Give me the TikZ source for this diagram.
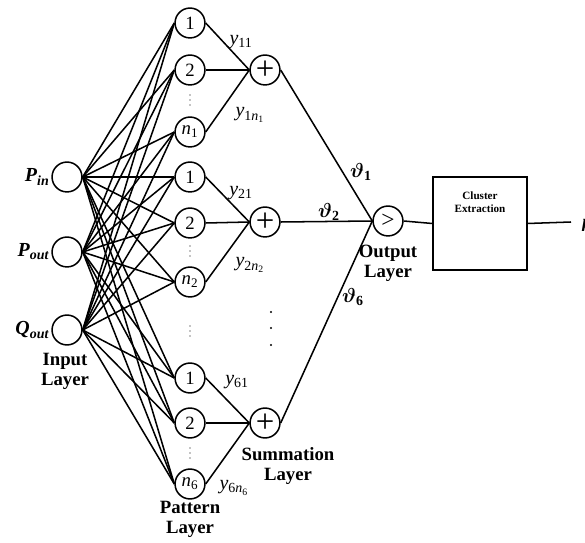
\documentclass[tikz,border=0pt]{standalone}
\usepackage{amsmath}
\usepackage{fontspec}
\setmainfont{Liberation Serif}
\usetikzlibrary{positioning}

\newcommand{\bvar}[2]{\textbf{\textit{#1}}\textsubscript{\textbf{\textit{#2}}}}
\newcommand{\wvar}[1]{\textit{y}\textsubscript{#1}}

\begin{document}
\begin{tikzpicture}[x=0.03cm,y=-0.03cm,line width=1.3pt,
                    main node/.style={circle,draw,minimum size=25.5pt,inner sep=0pt,font=\fontsize{16}{16}\selectfont},
                    sum node/.style={circle,draw,minimum size=25.5pt,inner sep=0pt,font=\fontsize{28}{28}\selectfont},
                    layer label/.style={align=center,font=\bfseries\fontsize{16}{17}\selectfont},
                    weight label/.style={font=\fontsize{17}{17}\selectfont}]
  \useasboundingbox (0,0) rectangle (585,543);
  % input layer
  \node[main node] (Pin)  at (67,177) {};
  \node[main node] (Pout) at (67,252) {};
  \node[main node] (Qout) at (67,330) {};
  \node[weight label,anchor=east,inner sep=1pt] at (Pin.west)  {\bvar{P}{in}};
  \node[weight label,anchor=east,inner sep=1pt] at (Pout.west) {\bvar{P}{out}};
  \node[weight label,anchor=east,inner sep=1pt] at (Qout.west) {\bvar{Q}{out}};
  \node[layer label] (inlabel) at (65,371) {Input\\Layer};

  % pattern layer
  \node[main node] (p11) at (190,23)  {1};
  \node[main node] (p12) at (190,70)  {2};
  \node[main node] (p1n) at (190,132) {\textit{n}\textsubscript{1}};
  \node[main node] (p21) at (190,177) {1};
  \node[main node] (p22) at (190,223) {2};
  \node[main node] (p2n) at (190,282) {\textit{n}\textsubscript{2}};
  \node[main node] (p61) at (190,378) {1};
  \node[main node] (p62) at (190,423) {2};
  \node[main node] (p6n) at (190,484) {\textit{n}\textsubscript{6}};
  \foreach \y in {100,251,331,453}
    \foreach \d in {-5,0,5}
      \fill (190,\y+\d) circle (0.6pt);
  \node[layer label] (patlabel) at (190,519) {Pattern\\Layer};

  % summation layer
  \node[sum node] (s1) at (265,70)  {+};
  \node[sum node] (s2) at (265,222) {+};
  \node[sum node] (s6) at (265,423) {+};
  \foreach \y in {312,328,345}
    \fill (271,\y) circle (0.9pt);
  \node[layer label] (sumlabel) at (288,466) {Summation\\Layer};

  % output layer
  \node[main node,font=\fontsize{20}{20}\selectfont] (out) at (388,221) {>};
  \node[layer label] (outlabel) at (388,263) {Output\\Layer};
  \node[draw,minimum width=80pt,minimum height=79pt] (cluster) at (480,223.5) {};
  \node[align=center,font=\bfseries\fontsize{9.5}{11}\selectfont,below=9pt of cluster.north] (clustertext) {Cluster\\Extraction};
  \coordinate (end) at (571,222);
  \node[anchor=west,font=\bfseries\itshape\fontsize{15}{15}\selectfont] (k) at (577,225) {k};

  % connections input -> pattern
  \foreach \i in {Pin,Pout,Qout}
    \foreach \p in {p11,p12,p1n,p21,p22,p2n,p61,p62,p6n}
      \draw (\i.east) -- (\p.west);

  % connections pattern -> summation
  \foreach \g in {1,2,6}
    \foreach \p in {\g1,\g2,\g n}
      \draw (p\p.east) -- (s\g.west);
  \draw (s1.east) -- (out.west);
  \draw (s2.east) -- (out.west);
  \draw (s6.east) -- (out.west);
  \draw (out.east) -- (cluster.west);
  \draw (cluster.east) -- (end);

  % weights
  \node[weight label] at (241,42)  {\wvar{11}};
  \node[weight label] at (250,115) {\wvar{1\textit{n}\textsubscript{1}}};
  \node[weight label] at (241,193) {\wvar{21}};
  \node[weight label] at (250,265) {\wvar{2\textit{n}\textsubscript{2}}};
  \node[weight label] at (237,382) {\wvar{61}};
  \node[weight label] at (234,488) {\wvar{6\textit{n}\textsubscript{6}}};
  \node[weight label] at (361,172) {$\boldsymbol{\vartheta}_{\mathbf{1}}$};
  \node[weight label] at (329,212) {$\boldsymbol{\vartheta}_{\mathbf{2}}$};
  \node[weight label] at (353,297) {$\boldsymbol{\vartheta}_{\mathbf{6}}$};
\end{tikzpicture}
\end{document}
